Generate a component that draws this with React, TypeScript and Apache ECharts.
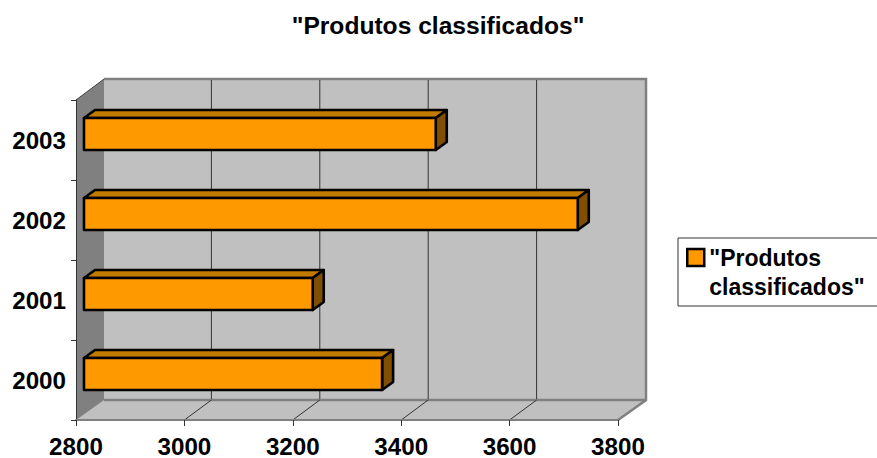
import React, { useEffect, useRef } from "react";
import * as echarts from "echarts";

const categories = ["2000", "2001", "2002", "2003"];
const values = [3350, 3222, 3711, 3449];
const wallTicks = [3000, 3200, 3400, 3600];
const seriesName = '"Produtos classificados"';

const FONT = '"Liberation Sans", Arial, sans-serif';
const DEPTH_X = 28;
const DEPTH_Y = 20;
const TICK_DEPTH_X = 27;
const BAR_DX = 8;
const BAR_SHIFT = -6;
const BAR_H = 32;
const BAR_DEPTH_X = 11;
const BAR_DEPTH_Y = 8;

function renderWallTick(params: any, api: any) {
  const cs = params.coordSys;
  const x0 = cs.x, y0 = cs.y, w = cs.width, h = cs.height;
  const gridX = api.coord([api.value(0), 0])[0];
  const back = gridX + TICK_DEPTH_X;
  const children: any[] = [];
  if (params.dataIndex === 0) {
    const gray = "#808080";
    children.push(
      { type: "polygon", shape: { points: [[x0 + DEPTH_X, y0 - DEPTH_Y - 1], [x0 + w + DEPTH_X, y0 - DEPTH_Y - 1], [x0 + w + DEPTH_X, y0 + h - DEPTH_Y], [x0 + w, y0 + h], [x0, y0 + h]] }, style: { fill: "#c0c0c0" } },
      { type: "polygon", shape: { points: [[x0, y0], [x0 + DEPTH_X, y0 - DEPTH_Y - 1], [x0 + DEPTH_X, y0 + h - DEPTH_Y], [x0, y0 + h]] }, style: { fill: gray } },
      { type: "polyline", shape: { points: [[x0 + DEPTH_X, y0 - DEPTH_Y - 1], [x0 + w + DEPTH_X, y0 - DEPTH_Y - 1], [x0 + w + DEPTH_X, y0 + h - DEPTH_Y], [x0 + w, y0 + h]] }, style: { fill: "none", stroke: gray, lineWidth: 2.5 } },
      { type: "line", shape: { x1: x0 + DEPTH_X, y1: y0 + h - DEPTH_Y, x2: x0 + w + DEPTH_X, y2: y0 + h - DEPTH_Y }, style: { stroke: gray, lineWidth: 2.5 } },
      { type: "line", shape: { x1: x0, y1: y0, x2: x0 + DEPTH_X, y2: y0 - DEPTH_Y - 1 }, style: { stroke: "#404040", lineWidth: 1 } }
    );
  }
  children.push(
    { type: "line", shape: { x1: back, y1: y0 - DEPTH_Y, x2: back, y2: y0 + h - DEPTH_Y - 1 }, style: { stroke: "#333333", lineWidth: 1 } },
    { type: "line", shape: { x1: gridX, y1: y0 + h, x2: back, y2: y0 + h - DEPTH_Y }, style: { stroke: "#333333", lineWidth: 1 } }
  );
  return { type: "group", children };
}

function renderBar3D(params: any, api: any) {
  const v = api.value(0);
  const idx = api.value(1);
  const center = api.coord([v, idx]);
  const xs = api.coord([2800, idx])[0] + BAR_DX;
  const xe = center[0] + BAR_DX;
  const top = center[1] + BAR_SHIFT - BAR_H / 2;
  const bottom = top + BAR_H;
  const dx = BAR_DEPTH_X, dy = BAR_DEPTH_Y;
  const line = { stroke: "#000000", lineWidth: 2.6, lineJoin: "round" };
  return {
    type: "group",
    children: [
      { type: "polygon", shape: { points: [[xs, top], [xs + dx, top - dy], [xe + dx, top - dy], [xe, top]] }, style: { fill: "#c27a00", ...line } },
      { type: "polygon", shape: { points: [[xe, top], [xe + dx, top - dy], [xe + dx, bottom - dy], [xe, bottom]] }, style: { fill: "#805000", ...line } },
      { type: "rect", shape: { x: xs, y: top, width: xe - xs, height: BAR_H }, style: { fill: "#ff9900", ...line } },
    ],
  };
}

export default function App() {
  const ref = useRef<HTMLDivElement>(null);
  useEffect(() => {
    const chart = echarts.init(ref.current!, null, { renderer: "svg" });
    chart.setOption({
      animation: false,
      backgroundColor: "#ffffff",
      title: {
        text: seriesName,
        left: 433,
        top: 8,
        textAlign: "center",
        textStyle: { fontFamily: FONT, fontWeight: "bold", fontSize: 24.6, color: "#000" },
      },
      legend: {
        data: [seriesName],
        left: 678,
        top: 238,
        orient: "vertical",
        padding: [5, 14, 5, 8],
        borderColor: "#333333",
        borderWidth: 1,
        backgroundColor: "#ffffff",
        itemWidth: 17,
        itemHeight: 46,
        itemGap: 0,
        icon: "path://M0 0h17v17h-17z M0 46h0",
        itemStyle: { color: "#ff9900", borderColor: "#000000", borderWidth: 2.5 },
        formatter: () => '"Produtos\nclassificados"',
        textStyle: { fontFamily: FONT, fontWeight: "bold", fontSize: 23, lineHeight: 29, color: "#000" },
      },
      grid: { left: 76, top: 100, width: 542, height: 321, containLabel: false },
      xAxis: {
        type: "value",
        min: 2800,
        max: 3800,
        interval: 200,
        z: 1,
        splitLine: { show: false },
        axisLine: { show: true, lineStyle: { color: "#808080", width: 2 } },
        axisTick: { show: true, length: 6, lineStyle: { color: "#333333", width: 1 } },
        axisLabel: { fontFamily: FONT, fontWeight: "bold", fontSize: 24.2, color: "#000", margin: 14, formatter: (v: number) => String(v) },
      },
      yAxis: {
        type: "category",
        data: categories,
        z: 1,
        axisLine: { show: true, lineStyle: { color: "#333333", width: 1 } },
        axisTick: { show: true, length: 5, alignWithLabel: false, lineStyle: { color: "#333333", width: 1 } },
        axisLabel: { fontFamily: FONT, fontWeight: "bold", fontSize: 24.2, color: "#000", margin: 10 },
      },
      series: [
        {
          type: "custom",
          name: "wall",
          z: 0,
          silent: true,
          renderItem: renderWallTick,
          encode: { x: 0, y: 1 },
          data: wallTicks.map((t) => [t, 0]),
        },
        {
          type: "custom",
          name: seriesName,
          z: 2,
          renderItem: renderBar3D,
          encode: { x: 0, y: 1 },
          data: values.map((v, i) => [v, i]),
        },
      ],
    });
    return () => chart.dispose();
  }, []);
  return <div ref={ref} style={{ position: "absolute", left: 0, top: 0, width: 877, height: 458 }} />;
}
